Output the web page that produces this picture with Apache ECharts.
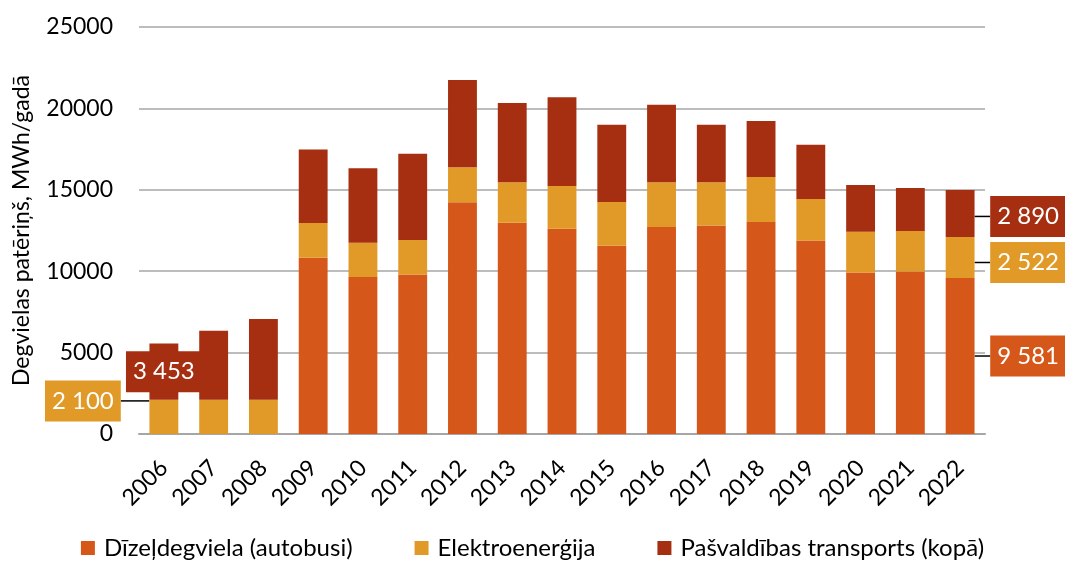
<!DOCTYPE html>
<html><head><meta charset="utf-8">
<script src="https://cdn.jsdelivr.net/npm/echarts@6/dist/echarts.min.js"></script>
<style>html,body{margin:0;padding:0;background:#fff}#c{width:1065px;height:565px}</style>
</head><body><div id="c"></div>
<script>
const years = ['2006','2007','2008','2009','2010','2011','2012','2013','2014','2015','2016','2017','2018','2019','2020','2021','2022'];
const diesel = [0,0,0,10830,9650,9790,14230,12980,12600,11570,12720,12800,13020,11880,9920,9980,9581];
const electricity = [2100,2100,2100,2130,2090,2130,2150,2480,2630,2680,2740,2660,2770,2560,2510,2490,2522];
const municipal = [3453,4240,4960,4520,4580,5300,5360,4870,5460,4740,4760,3530,3430,3330,2860,2640,2890];
const seriesNames = ['Dīzeļdegviela (autobusi)','Elektroenerģija','Pašvaldības transports (kopā)'];
const colors = ['#D5581A','#E19A28','#A52F10'];
// which data points carry a value label, and how far it is moved (dx, dy)
const labelled = [
  {16:[68,0]},
  {0:[-81,-16],16:[68,5]},
  {0:[0,0],16:[68,3]}
];
const FONT = 'Lato, "Noto Sans", sans-serif';
function fmt(v){return String(v).replace(/\B(?=(\d{3})+(?!\d))/g,' ');}
function build(values, si){
  return values.map((v,i)=> labelled[si][i] ? {value:v,label:{show:true}} : v);
}
const chart = echarts.init(document.getElementById('c'));
const series = [diesel, electricity, municipal].map((vals,si)=>({
  name: seriesNames[si],
  type: 'bar',
  stack: 'total',
  barWidth: '58%',
  itemStyle: {color: colors[si]},
  data: build(vals, si),
  label: {
    show: false, position: 'inside', color: '#fff', fontSize: 24, fontFamily: FONT,
    backgroundColor: colors[si], padding: [9, 7, 8, 7],
    formatter: p => fmt(p.value)
  },
  labelLine: {show: true, lineStyle: {color: '#000', width: 1.5}},
  labelLayout: function(p){
    const m = labelled[si][p.dataIndex];
    return m ? {dx: m[0], dy: m[1]} : {};
  }
}));
chart.setOption({
  animation: false,
  textStyle: {fontFamily: FONT},
  grid: {left: 139, right: 80, top: 27, bottom: 131, containLabel: false},
  legend: {
    bottom: 0, left: 'center', itemWidth: 14, itemHeight: 14, itemGap: 62, icon: 'rect',
    textStyle: {fontSize: 24, color: '#000', fontFamily: FONT, padding: [0,0,0,4]},
    data: seriesNames
  },
  xAxis: {
    type: 'category', data: years,
    axisTick: {show: false},
    axisLine: {lineStyle: {color: '#A6A6A6', width: 2}},
    axisLabel: {rotate: 45, fontSize: 23, color: '#000', margin: 30, fontFamily: FONT}
  },
  yAxis: {
    type: 'value', min: 0, max: 25000, interval: 5000,
    name: 'Degvielas patēriņš, MWh/gadā', nameLocation: 'middle', nameGap: 106,
    nameTextStyle: {fontSize: 23, color: '#000', fontFamily: FONT},
    axisLabel: {fontSize: 23, color: '#000', margin: 26, fontFamily: FONT, formatter: v => String(v)},
    splitLine: {lineStyle: {color: '#A6A6A6', width: 1.5}},
    axisLine: {show: false}, axisTick: {show: false}
  },
  series: series
});
</script>
</body></html>
